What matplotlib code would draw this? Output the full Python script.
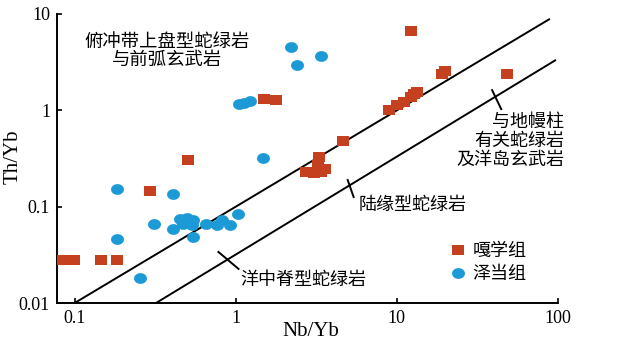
import numpy as np
import matplotlib
matplotlib.use("Agg")
import matplotlib.pyplot as plt
from matplotlib.path import Path
from matplotlib.lines import Line2D

# ---- data ----
ga_nb = [12.2, 0.0835, 0.099, 0.146, 0.184, 0.294, 0.508, 1.49, 1.77, 4.61,
         3.27, 3.22, 2.71, 3.05, 3.37, 3.56, 8.91, 10.0, 11.1, 12.2, 13.3, 12.8,
         19.1, 19.8, 48.4]
ga_th = [6.65, 0.028, 0.028, 0.028, 0.028, 0.146, 0.305, 1.31, 1.28, 0.48,
         0.328, 0.271, 0.229, 0.224, 0.229, 0.246, 1.01, 1.13, 1.22, 1.37, 1.55, 1.48,
         2.38, 2.55, 2.38]

ze_nb = [2.19, 2.39, 3.37, 1.04, 1.12, 1.22, 1.47, 0.184, 0.41, 0.312, 0.184,
         0.41, 0.546, 0.255, 0.453, 0.50, 0.546, 0.473, 0.538, 0.649, 0.77, 0.826,
         0.927, 1.03]
ze_th = [4.54, 2.95, 3.66, 1.16, 1.19, 1.25, 0.32, 0.153, 0.135, 0.066, 0.046,
         0.0587, 0.0485, 0.0182, 0.0745, 0.076, 0.073, 0.066, 0.0646, 0.066, 0.0646,
         0.073, 0.0646, 0.084]

upper_nb = [0.1, 88.0]
upper_th = [0.01, 8.8]
lower_nb = [0.32, 96.0]
lower_th = [0.01, 3.3]

tick_marks = [
    ([0.78, 1.04], [0.0339, 0.0226]),
    ([4.95, 5.39], [0.189, 0.126]),
    ([39.0, 44.4], [1.62, 1.03]),
]

xticks = [0.1, 1, 10, 100]
xticklabels = ["0.1", "1", "10", "100"]
yticks = [0.01, 0.1, 1, 10]
yticklabels = ["0.01", "0.1", "1", "10"]

RED = "#C5401E"
BLUE = "#1C9AD6"
CJK = ["Noto Sans CJK SC", "DejaVu Sans"]
SERIF = ["Liberation Serif", "DejaVu Serif"]

# custom markers (slightly wider than tall)
sq = Path([(-1.2, -1), (1.2, -1), (1.2, 1), (-1.2, 1), (-1.2, -1)],
          [Path.MOVETO, Path.LINETO, Path.LINETO, Path.LINETO, Path.CLOSEPOLY])
t = np.linspace(0, 2 * np.pi, 60)
ell = Path(np.column_stack([1.2 * np.cos(t), np.sin(t)]), closed=True)

fig = plt.figure(figsize=(6.25, 3.42), dpi=100)
ax = fig.add_axes([57 / 625, 39 / 342, 501 / 625, 289 / 342])
ax.set_xscale("log")
ax.set_yscale("log")
ax.set_xlim(0.0777, 100)
ax.set_ylim(0.01, 10)

ax.plot(upper_nb, upper_th, color="black", lw=1.4, zorder=1)
ax.plot(lower_nb, lower_th, color="black", lw=1.4, zorder=1)
for xs, ys in tick_marks:
    ax.plot(xs, ys, color="black", lw=1.4, zorder=1)

ax.plot(ga_nb, ga_th, linestyle="none", marker=sq, markersize=9.3,
        color=RED, markeredgewidth=0, zorder=3)
ax.plot(ze_nb, ze_th, linestyle="none", marker=ell, markersize=9.3,
        color=BLUE, markeredgewidth=0, zorder=3)

for s in ["top", "right"]:
    ax.spines[s].set_visible(False)
for s in ["left", "bottom"]:
    ax.spines[s].set_linewidth(1.4)

ax.set_xticks(xticks)
ax.set_xticklabels(xticklabels)
ax.set_yticks(yticks)
ax.set_yticklabels(yticklabels)
ax.minorticks_off()
ax.tick_params(direction="in", length=3.5, width=1.2, pad=5)
for lab in ax.get_xticklabels() + ax.get_yticklabels():
    lab.set_family(SERIF)
    lab.set_fontsize(13)

ax.set_xlabel("Nb/Yb", family=SERIF, fontsize=15, va="center")
ax.set_ylabel("Th/Yb", family=SERIF, fontsize=15, va="center")
ax.xaxis.set_label_coords(0.507, -0.097)
ax.yaxis.set_label_coords(-0.088, 0.505)

ax.text(0.376, 4.17, "俯冲带上盘型蛇绿岩\n与前弧玄武岩", family=CJK, fontsize=13.2,
        ha="center", va="center", linespacing=1.0)
ax.text(109, 0.48, "与地幔柱\n有关蛇绿岩\n及洋岛玄武岩", family=CJK, fontsize=13,
        ha="right", va="center", linespacing=1.05, multialignment="right")
ax.text(5.8, 0.104, "陆缘型蛇绿岩", family=CJK, fontsize=13, ha="left", va="center")
ax.text(1.07, 0.0174, "洋中脊型蛇绿岩", family=CJK, fontsize=13, ha="left", va="center")

handles = [
    Line2D([], [], linestyle="none", marker=sq, markersize=9.3, color=RED, markeredgewidth=0),
    Line2D([], [], linestyle="none", marker=ell, markersize=9.3, color=BLUE, markeredgewidth=0),
]
leg = ax.legend(handles, ["嘎学组", "泽当组"], loc="center left",
                bbox_to_anchor=(0.764, 0.140), frameon=False, borderpad=0,
                handlelength=1.0, handletextpad=0.3, labelspacing=0.3,
                prop={"family": CJK, "size": 13})

fig.savefig("out.png", dpi=100)
